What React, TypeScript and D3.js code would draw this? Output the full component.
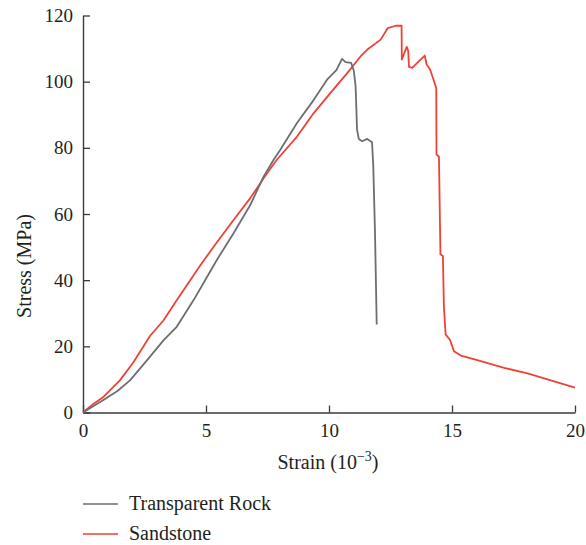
import React, { useRef, useEffect } from "react";
import * as d3 from "d3";

// transparent rock (grey)
const rockStrain = [0, 0.4, 0.83, 1.4, 1.91, 2.59, 3.27, 3.81, 4.49, 4.77, 5.44, 6.12, 6.8, 7.34, 7.75, 8.02, 8.7, 9.38, 9.92, 10.3, 10.53, 10.67, 10.9, 11.01, 11.08, 11.1, 11.14, 11.21, 11.35, 11.55, 11.75, 11.8, 11.87, 11.94];
const rockStress = [0, 1.8, 3.8, 6.5, 9.7, 15.7, 21.8, 25.9, 33.9, 37.5, 46.1, 54.2, 62.7, 71.3, 76.4, 79.4, 87.5, 94.5, 100.6, 103.5, 106.9, 105.9, 105.7, 103.2, 98.7, 94.6, 85.5, 82.7, 82.0, 82.7, 81.7, 74.5, 54.3, 26.6];

// sandstone (red)
const sandStrain = [0, 0.42, 0.83, 1.5, 2.05, 2.73, 3.27, 3.81, 4.77, 5.31, 6.12, 6.8, 7.48, 7.88, 8.7, 9.38, 10.06, 10.74, 11.29, 11.56, 12.1, 12.39, 12.71, 12.95, 12.96, 13.16, 13.22, 13.25, 13.38, 13.89, 13.97, 14.11, 14.36, 14.37, 14.47, 14.53, 14.63, 14.67, 14.74, 14.92, 15.08, 15.36, 16.03, 17.12, 18.07, 18.88, 20.0];
const sandStress = [0, 2.6, 4.7, 9.7, 15.2, 23.2, 27.8, 33.9, 44.5, 50.1, 58.2, 64.8, 72.3, 76.4, 83.4, 90.5, 96.6, 102.6, 107.7, 109.7, 112.7, 116.2, 116.9, 116.9, 106.7, 110.5, 109.3, 104.5, 104.2, 107.9, 105.2, 103.7, 98.1, 78.0, 77.3, 47.8, 47.3, 32.1, 23.6, 21.9, 18.5, 17.2, 15.8, 13.5, 11.8, 10.0, 7.5];

const xTicks = [0, 5, 10, 15, 20];
const yTicks = [0, 20, 40, 60, 80, 100, 120];
const seriesNames = ["Transparent Rock", "Sandstone"];
const seriesColors = ["#6d6e71", "#ef4136"];

const App = () => {
  const ref = useRef<SVGSVGElement>(null);
  const width = 586;
  const height = 545;

  useEffect(() => {
    document.body.style.margin = "0";
    const svg = d3.select(ref.current);
    svg.selectAll("*").remove();

    const font = '"Liberation Serif", "DejaVu Serif", "Noto Serif", serif';
    const axisColor = "#3a3a3a";

    const x = d3.scaleLinear().domain([0, 20]).range([83, 575]);
    const y = d3.scaleLinear().domain([0, 120]).range([412.5, 15.5]);

    const xAxis = svg
      .append("g")
      .attr("transform", `translate(0,${y(0)})`)
      .call(d3.axisBottom(x).tickValues(xTicks).tickSizeInner(-7).tickSizeOuter(0).tickPadding(11));
    const yAxis = svg
      .append("g")
      .attr("transform", `translate(${x(0)},0)`)
      .call(d3.axisLeft(y).tickValues(yTicks).tickSizeInner(-7).tickSizeOuter(0).tickPadding(10));

    [xAxis, yAxis].forEach((a) => {
      a.attr("font-family", font);
      a.select(".domain").attr("stroke", axisColor).attr("stroke-width", 1.4);
      a.selectAll(".tick line").attr("stroke", axisColor).attr("stroke-width", 1.3);
      a.selectAll(".tick text")
        .attr("fill", "#231f20")
        .attr("font-family", font)
        .attr("font-size", 19);
    });

    const line = d3
      .line<[number, number]>()
      .x((d) => x(d[0]))
      .y((d) => y(d[1]));

    const rock = rockStrain.map((s, i) => [s, rockStress[i]] as [number, number]);
    const sand = sandStrain.map((s, i) => [s, sandStress[i]] as [number, number]);

    svg.append("path").datum(sand).attr("d", line).attr("fill", "none")
      .attr("stroke", seriesColors[1]).attr("stroke-width", 1.8).attr("stroke-linejoin", "round");
    svg.append("path").datum(rock).attr("d", line).attr("fill", "none")
      .attr("stroke", seriesColors[0]).attr("stroke-width", 1.8).attr("stroke-linejoin", "round");

    // axis titles
    const xt = svg.append("text")
      .attr("x", 328)
      .attr("y", 469)
      .attr("text-anchor", "middle")
      .attr("fill", "#231f20")
      .attr("font-family", font)
      .attr("font-size", 20);
    xt.append("tspan").text("Strain (10");
    xt.append("tspan").attr("dy", -8).attr("font-size", 14).text("−3");
    xt.append("tspan").attr("dy", 8).text(")");

    svg.append("text")
      .attr("transform", "translate(31,266) rotate(-90)")
      .attr("text-anchor", "middle")
      .attr("fill", "#231f20")
      .attr("font-family", font)
      .attr("font-size", 20)
      .text("Stress (MPa)");

    // legend
    const legend = svg.append("g");
    seriesNames.forEach((name, i) => {
      const ly = 504 + i * 30;
      legend.append("line")
        .attr("x1", 83).attr("x2", 118).attr("y1", ly).attr("y2", ly)
        .attr("stroke", seriesColors[i]).attr("stroke-width", 1.6);
      legend.append("text")
        .attr("x", 129).attr("y", ly + 6)
        .attr("fill", "#231f20")
        .attr("font-family", font)
        .attr("font-size", 20)
        .text(name);
    });
  }, []);

  return <svg ref={ref} width={width} height={height} style={{ display: "block" }}></svg>;
};

export default App;
